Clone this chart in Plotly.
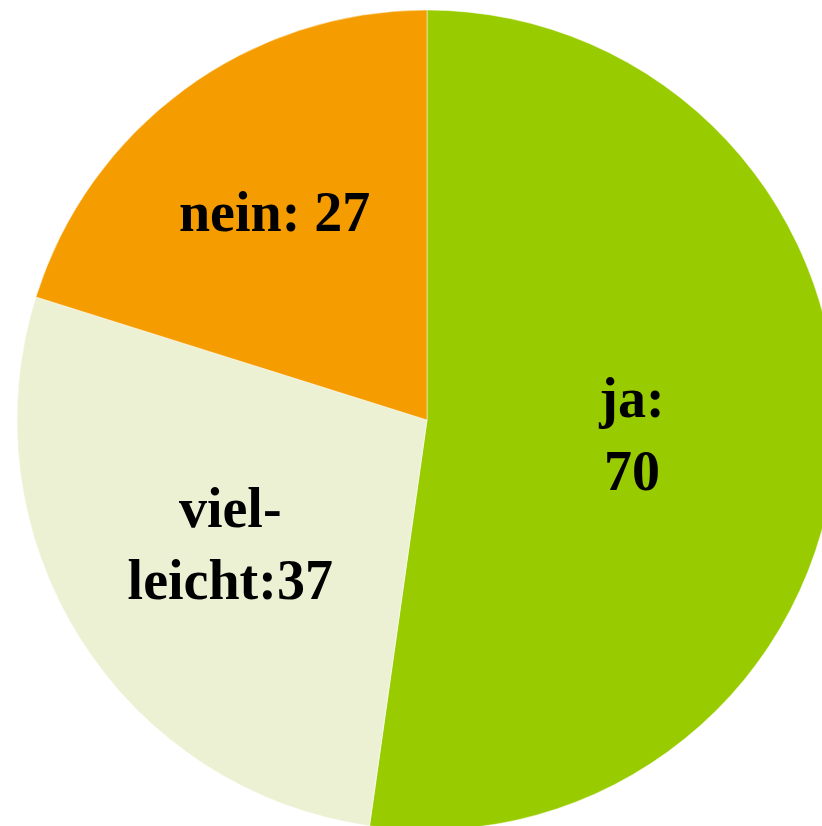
import plotly.graph_objects as go

labels = ["ja", "vielleicht", "nein"]
values = [70, 37, 27]
texts = ["ja:<br>70", "viel-<br>leicht:37", "nein: 27"]
colors = ["#99CC00", "#ECF1D4", "#F59D00"]

fig = go.Figure(go.Pie(
    labels=labels,
    values=values,
    text=texts,
    textinfo="text",
    textposition="inside",
    insidetextorientation="horizontal",
    sort=False,
    direction="clockwise",
    rotation=0,
    marker=dict(colors=colors, line=dict(color="white", width=0.5)),
    textfont=dict(family="Liberation Serif", size=56, color="black", weight="bold"),
    hoverinfo="label+value",
    showlegend=False,
))

fig.update_layout(
    width=854, height=840,
    margin=dict(l=17, r=17, t=10, b=10),
    paper_bgcolor="white",
    plot_bgcolor="white",
)

fig.write_html("out.html", config={"displayModeBar": False},
               post_script="document.body.style.margin='0';document.body.style.overflow='hidden';")
